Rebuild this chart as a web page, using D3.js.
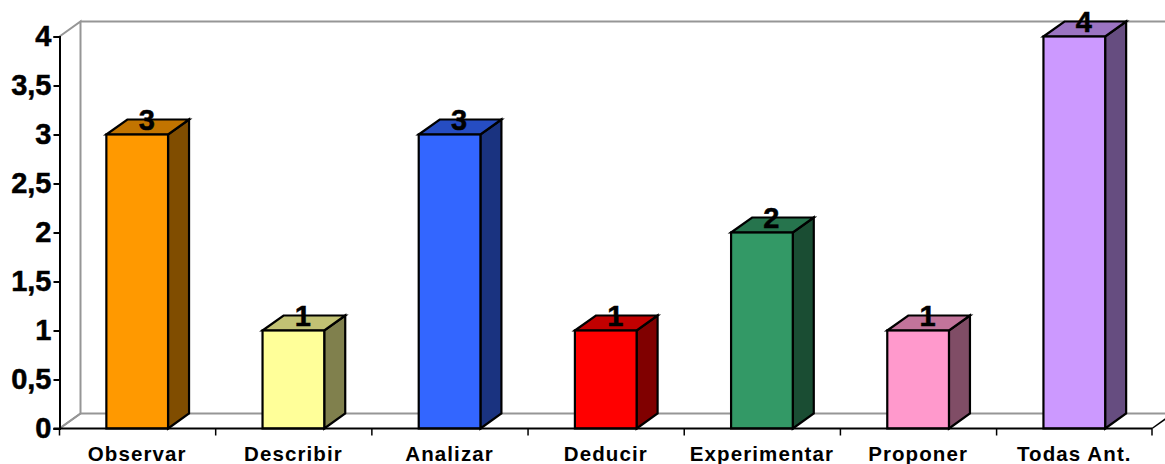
<!DOCTYPE html>
<html><head><meta charset="utf-8">
<script src="https://cdnjs.cloudflare.com/ajax/libs/d3/7.8.5/d3.min.js"></script>
<style>html,body{margin:0;padding:0;background:#fff}svg{display:block}text{font-family:"Liberation Sans",Arial,sans-serif;font-weight:bold;fill:#000}</style>
</head><body><svg id="c" width="1165" height="464"></svg>
<script>
const categories=["Observar","Describir","Analizar","Deducir","Experimentar","Proponer","Todas Ant."];
const values=[3,1,3,1,2,1,4];
const frontColors=["#ff9900","#ffff99","#3366ff","#ff0000","#339966","#ff99cc","#cc99ff"];
const topColors=["#c27400","#c2c274","#264dc2","#c20000","#26744d","#c2749b","#9b74c2"];
const sideColors=["#804d00","#80804d","#1a3380","#800000","#1a4d33","#804d66","#664d80"];
const yTicks=[0,0.5,1,1.5,2,2.5,3,3.5,4];
const yTickLabels=["0","0,5","1","1,5","2","2,5","3","3,5","4"];

const svg=d3.select("#c");
const left=59.5,right=1152,y0=428.5,y4=36.5,dx=21,dy=-15;
const x=d3.scaleBand().domain(categories).range([left,right]).paddingInner(0.605).paddingOuter(0.3);
const y=d3.scaleLinear().domain([0,4]).range([y0,y4]);
const step=x.step();
const line=d3.line();

// walls and floor
const wall="#969696";
svg.append("path").attr("d",line([[left,y(4)],[left+dx,y(4)+dy],[left+dx,y0+dy],[left,y0]])).attr("fill","none").attr("stroke",wall).attr("stroke-width",2);
svg.append("path").attr("d",line([[left+dx,y(4)+dy],[1170,y(4)+dy]])).attr("fill","none").attr("stroke",wall).attr("stroke-width",2);
svg.append("path").attr("d",line([[left+dx,y0+dy],[1170,y0+dy]])).attr("fill","none").attr("stroke",wall).attr("stroke-width",2);
svg.append("path").attr("d",line([[right,y0],[right+dx,y0+dy]])).attr("fill","none").attr("stroke","#000").attr("stroke-width",1.5);
svg.append("path").attr("d",line([[left,y0],[left+dx,y0+dy]])).attr("fill","none").attr("stroke",wall).attr("stroke-width",2);

// bars
const g=svg.selectAll("g.bar").data(categories).join("g").attr("class","bar");
const st=s=>s.attr("stroke","#000").attr("stroke-width",2.2).attr("stroke-linejoin","miter");
g.each(function(c,i){
  const s=d3.select(this),a=x(c),b=a+x.bandwidth(),t=y(values[i]);
  s.append("path").attr("d",line([[b,y0],[b+dx,y0+dy],[b+dx,t+dy],[b,t]])+"Z").attr("fill",sideColors[i]).call(st);
  s.append("path").attr("d",line([[a,t],[a+dx,t+dy],[b+dx,t+dy],[b,t]])+"Z").attr("fill",topColors[i]).call(st);
  s.append("rect").attr("x",a).attr("y",t).attr("width",b-a).attr("height",y0-t).attr("fill",frontColors[i]).call(st);
});

// axes
const yAxis=d3.axisLeft(y).tickValues(yTicks).tickFormat((d,i)=>yTickLabels[i]).tickSize(6).tickPadding(2);
const ya=svg.append("g").attr("transform",`translate(${left},0)`).call(yAxis);
ya.selectAll("path,line").attr("stroke","#000").attr("stroke-width",2);
ya.selectAll("text").style("font-size","29px").style("stroke","#000").style("stroke-width","0.5px");
const tickEdges=categories.map((c,i)=>left+step*i).concat([right]);
svg.append("line").attr("x1",left-6).attr("x2",right).attr("y1",y0).attr("y2",y0).attr("stroke","#000").attr("stroke-width",2);
svg.selectAll("line.xt").data(tickEdges).join("line").attr("class","xt").attr("x1",d=>d).attr("x2",d=>d).attr("y1",y0).attr("y2",y0+7).attr("stroke","#000").attr("stroke-width",1.5);
svg.selectAll("text.cat").data(categories).join("text").attr("class","cat")
  .attr("x",c=>x(c)+x.bandwidth()/2).attr("y",460.5).attr("text-anchor","middle")
  .style("font-size","20.5px").style("letter-spacing","1.1px").text(c=>c);

// data labels
svg.selectAll("text.val").data(categories).join("text").attr("class","val")
  .attr("x",c=>x(c)+x.bandwidth()/2+9.5).attr("y",(c,i)=>y(values[i])-5).attr("text-anchor","middle")
  .style("font-size","29px").style("stroke","#000").style("stroke-width","0.5px").text((c,i)=>values[i]);
</script></body></html>
